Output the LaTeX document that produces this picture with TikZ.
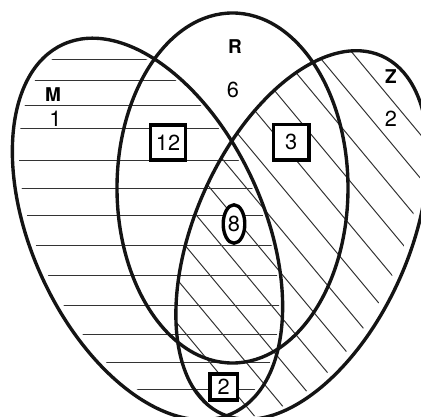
\documentclass[tikz,border=0pt]{standalone}
\usepackage{fontspec}
\setmainfont{TeX Gyre Heros}
\usetikzlibrary{shapes.geometric}

\begin{document}
\begin{tikzpicture}[
          x=0.025cm, y=0.025cm,
          rim/.style={line width=2.4pt, black!92},
          hatch/.style={line width=0.7pt, black!80},
          setlbl/.style={font=\fontsize{13.5}{16}\selectfont\bfseries, inner sep=0pt},
          num/.style={font=\fontsize{15.5}{18}\selectfont, inner sep=0pt},
          numbox/.style={num, draw, line width=2.5pt, fill=white, minimum width=0.88cm, minimum height=0.88cm},
          numoval/.style={num, ellipse, draw, line width=2.4pt, fill=white, minimum width=0.54cm, minimum height=0.96cm}
      ]
        \useasboundingbox (0,0) rectangle (421,416);
        \coordinate (cM) at (147.5,187);
        \coordinate (cR) at (232.5,228);
        \coordinate (cZ) at (302,181);
        \coordinate (hM) at (149,187);
        \coordinate (hZ) at (298.3,182.6);
        % horizontal hatching in M
        \begin{scope}
          \clip[rotate around={-65.4:(hM)}] (hM) ellipse [x radius=197, y radius=111];
          \foreach \yy in {357,336,311,288,256,228,201,171,141,111,82,54,27}
            \draw[hatch] (0,\yy) -- (421,\yy);
        \end{scope}
        % diagonal hatching in Z
        \begin{scope}
          \clip[rotate around={66:(cZ)}] (cZ) ellipse [x radius=196, y radius=107];
          \clip[rotate around={66:(hZ)}] (hZ) ellipse [x radius=196, y radius=103];
          \foreach \k in {0,...,12}
            \draw[hatch] (100,{666-43.7*\k}) -- (460,{234-43.7*\k});
        \end{scope}
        \draw[rim, rotate around={-65.4:(cM)}] (cM) ellipse [x radius=203, y radius=116];
        \draw[rim] (cR) ellipse [x radius=115.5, y radius=175];
        \draw[rim, rotate around={66:(cZ)}] (cZ) ellipse [x radius=196, y radius=107];
        \node[setlbl] (labM) at (53,321) {M};
        \node[num] (numM) at (55.5,297) {1};
        \node[setlbl] (labR) at (235,369.5) {R};
        \node[num] (numR) at (233,326) {6};
        \node[setlbl] (labZ) at (391,339.3) {Z};
        \node[num] (numZ) at (391,297) {2};
        \node[numbox] (numMR) at (168,273.5) {12};
        \node[numbox] (numRZ) at (291.3,273.8) {3};
        \node[numoval] (numMRZ) at (234,192) {8};
        \node[numbox, minimum width=0.68cm, minimum height=0.64cm] (numMZ) at (223.8,29) {2};
      \end{tikzpicture}
\end{document}
